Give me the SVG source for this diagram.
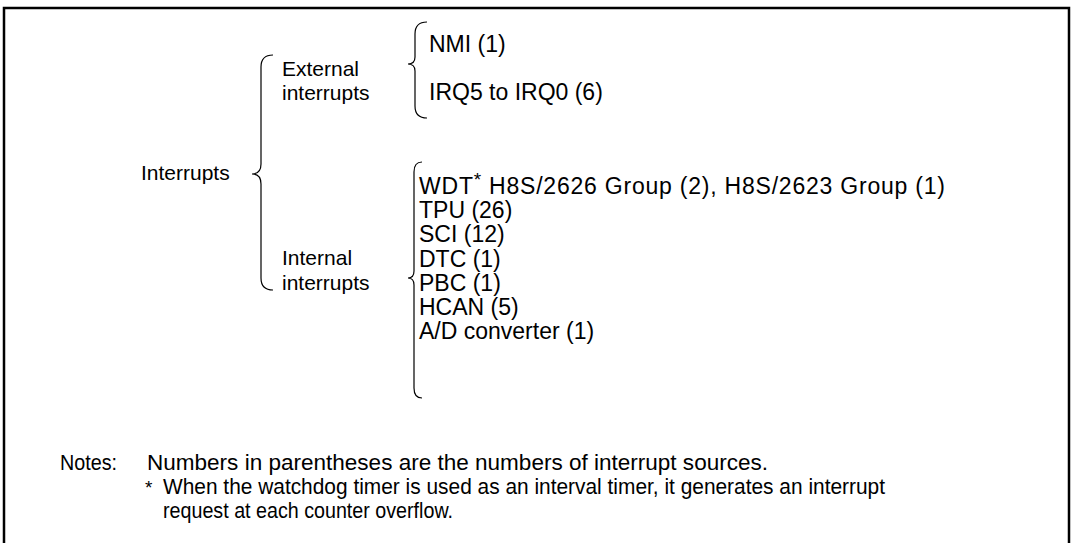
<svg xmlns="http://www.w3.org/2000/svg" width="1074" height="543" viewBox="0 0 1074 543">
<style>
text{font-family:"Liberation Sans",Arial,sans-serif;font-size:23px;fill:#000}
.lbl{font-size:21px}
.note{font-size:22px}
.sup{font-size:19px}
.br{fill:none;stroke:#000;stroke-width:1.2}
.frame{fill:none;stroke:#000;stroke-width:2.5}
</style>
<rect width="1074" height="543" fill="#fff"/>
<path class="frame" d="M4,560 V8 H1069 V560"/>
<g id="connectors">
<path class="br" d="M273,55 Q261,55 261,67 V164 Q261,174 252,174 Q261,174 261,184 V278 Q261,290 273,290"/>
<path class="br" d="M427,22 Q415,22 415,34 V57 Q415,64 408,64 Q415,64 415,71 V106 Q415,118 427,118"/>
<path class="br" d="M422,162 Q414,162 414,172 V271 Q414,278 408,278 Q414,278 414,285 V388 Q414,398 422,398"/>
</g>
<g id="interrupts"><text class="lbl" x="141" y="180">Interrupts</text></g>
<g id="external"><text class="lbl" x="282" y="76">External</text><text class="lbl" x="282" y="100">interrupts</text></g>
<g id="internal"><text class="lbl" x="282" y="265">Internal</text><text class="lbl" x="282" y="290">interrupts</text></g>
<g id="ext-sources">
<text x="429" y="52">NMI (1)</text>
<text x="429" y="100">IRQ5 to IRQ0 (6)</text>
</g>
<g id="int-sources">
<text x="419" y="194" textLength="526" lengthAdjust="spacing">WDT<tspan class="sup" dy="-8">*</tspan><tspan dy="8"> H8S/2626 Group (2), H8S/2623 Group (1)</tspan></text>
<text x="419" y="218">TPU (26)</text>
<text x="419" y="242">SCI (12)</text>
<text x="419" y="267">DTC (1)</text>
<text x="419" y="291">PBC (1)</text>
<text x="419" y="315">HCAN (5)</text>
<text x="419" y="339">A/D converter (1)</text>
</g>
<g id="notes">
<text class="note" x="60" y="470" textLength="57" lengthAdjust="spacingAndGlyphs">Notes:</text>
<text class="note" x="147" y="470" textLength="621" lengthAdjust="spacingAndGlyphs">Numbers in parentheses are the numbers of interrupt sources.</text>
<text x="145" y="494" class="sup">*</text>
<text class="note" x="163" y="494" textLength="722" lengthAdjust="spacingAndGlyphs">When the watchdog timer is used as an interval timer, it generates an interrupt</text>
<text class="note" x="163" y="518" textLength="290" lengthAdjust="spacingAndGlyphs">request at each counter overflow.</text>
</g>
</svg>
